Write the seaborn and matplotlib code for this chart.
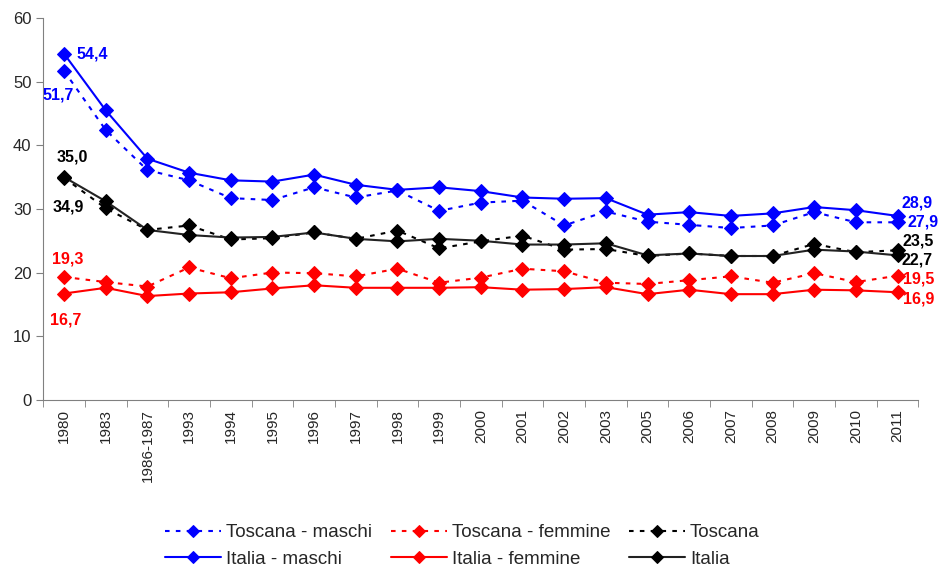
import numpy as np
import pandas as pd
import matplotlib
matplotlib.use('Agg')
import matplotlib.pyplot as plt
import seaborn as sns

# Categories (x axis)
anni = ['1980', '1983', '1986-1987', '1993', '1994', '1995', '1996', '1997', '1998',
        '1999', '2000', '2001', '2002', '2003', '2005', '2006', '2007', '2008',
        '2009', '2010', '2011']

# Series values
toscana_maschi = [51.7, 42.4, 36.1, 34.5, 31.7, 31.4, 33.4, 31.8, 32.9, 29.7, 31.0,
                  31.3, 27.4, 29.6, 28.0, 27.5, 27.0, 27.4, 29.5, 27.9, 27.9]
toscana_femmine = [19.3, 18.5, 17.8, 20.8, 19.1, 20.0, 19.9, 19.4, 20.6, 18.4, 19.2,
                   20.6, 20.2, 18.4, 18.2, 18.8, 19.4, 18.4, 19.9, 18.5, 19.5]
toscana = [34.9, 30.1, 26.7, 27.4, 25.2, 25.4, 26.3, 25.3, 26.6, 23.8, 24.9,
           25.8, 23.6, 23.7, 22.6, 23.0, 22.6, 22.6, 24.5, 23.2, 23.5]
italia_maschi = [54.4, 45.5, 37.9, 35.7, 34.5, 34.3, 35.4, 33.8, 33.0, 33.4, 32.8,
                 31.8, 31.6, 31.7, 29.1, 29.5, 28.9, 29.3, 30.3, 29.8, 28.9]
italia_femmine = [16.7, 17.6, 16.3, 16.7, 16.9, 17.5, 18.0, 17.6, 17.6, 17.6, 17.7,
                  17.3, 17.4, 17.7, 16.6, 17.3, 16.6, 16.6, 17.3, 17.2, 16.9]
italia = [35.0, 31.2, 26.7, 25.9, 25.5, 25.6, 26.3, 25.3, 24.9, 25.3, 25.0,
          24.4, 24.4, 24.6, 22.7, 23.0, 22.6, 22.6, 23.6, 23.3, 22.7]

BLUE = '#0000FF'
RED = '#FF0000'
BLACK = '#000000'
DOT = (0, (2.2, 3))

sns.set_style('ticks')
plt.rcParams['font.family'] = ['Liberation Sans', 'DejaVu Sans']

fig = plt.figure(figsize=(9.4, 5.67), dpi=100)
ax = fig.add_axes([0.046, 0.295, 0.931, 0.673])

x = np.arange(len(anni))

series = [
    ('Toscana - maschi', toscana_maschi, BLUE, DOT),
    ('Italia - maschi', italia_maschi, BLUE, '-'),
    ('Toscana - femmine', toscana_femmine, RED, DOT),
    ('Italia - femmine', italia_femmine, RED, '-'),
    ('Toscana', toscana, BLACK, DOT),
    ('Italia', italia, '#222222', '-'),
]

for name, vals, col, ls in series:
    mcol = BLACK if col == '#222222' else col
    sns.lineplot(x=x, y=vals, ax=ax, color=col, linestyle=ls, linewidth=1.5,
                 marker='D', markersize=7.5, markeredgecolor=mcol,
                 markerfacecolor=mcol, label=name)

ax.get_legend().remove()

# axes styling
ax.set_ylim(0, 60)
ax.set_yticks(range(0, 61, 10))
ax.set_xlim(-0.5, len(anni) - 0.5)
ax.set_xticks(x)
ax.set_xticklabels(anni, rotation=90)
ax.set_xticks(np.arange(-0.5, len(anni), 1), minor=True)
ax.tick_params(axis='x', which='major', length=0, pad=7, labelsize=11)
ax.tick_params(axis='x', which='minor', length=5, color='#808080')
ax.tick_params(axis='y', length=5, color='#808080', labelsize=12)
for s in ['top', 'right']:
    ax.spines[s].set_visible(False)
for s in ['left', 'bottom']:
    ax.spines[s].set_color('#808080')
ax.set_xlabel('')
ax.set_ylabel('')

def lab(v):
    return f'{v:.1f}'.replace('.', ',')

# value labels at the first and last points
first = [
    (italia_maschi, BLUE, (12, 0), 'left'),
    (toscana_maschi, BLUE, (-6, -24), 'center'),
    (italia, BLACK, (8, 20), 'center'),
    (toscana, BLACK, (4, -29), 'center'),
    (toscana_femmine, RED, (4, 18), 'center'),
    (italia_femmine, RED, (2, -26), 'center'),
]
for vals, col, off, ha in first:
    ax.annotate(lab(vals[0]), (x[0], vals[0]), xytext=off, textcoords='offset pixels',
                ha=ha, va='center', color=col, fontsize=11.5, fontweight='bold')

last = [
    (italia_maschi, BLUE, (4, 13)),
    (toscana_maschi, BLUE, (10, 0)),
    (toscana, BLACK, (5, 9)),
    (italia, BLACK, (4, -5)),
    (toscana_femmine, RED, (5, -3)),
    (italia_femmine, RED, (5, -7)),
]
for vals, col, off in last:
    ax.annotate(lab(vals[-1]), (x[-1], vals[-1]), xytext=off, textcoords='offset pixels',
                ha='left', va='center', color=col, fontsize=11.5, fontweight='bold',
                annotation_clip=False)

handles, labels = ax.get_legend_handles_labels()
fig.legend(handles, labels, loc='center', bbox_to_anchor=(0.492, 0.037), ncol=3,
           frameon=False, fontsize=13.5, handlelength=3.0, handletextpad=0.25,
           columnspacing=1.0, labelspacing=0.5, borderaxespad=0, markerscale=0.75)

fig.savefig('out.png', dpi=100)
